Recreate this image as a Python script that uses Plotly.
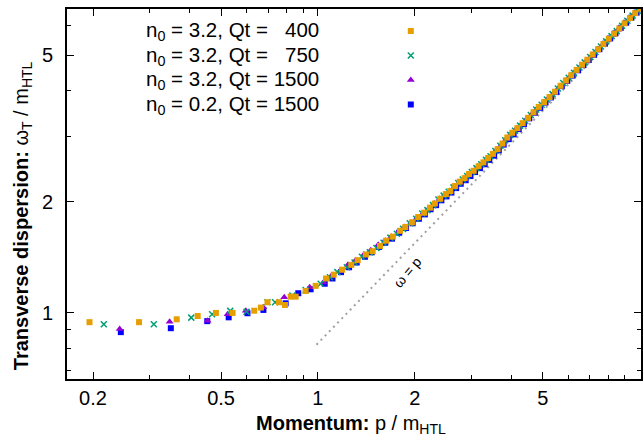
import math
import plotly.graph_objects as go

# ---- data ----
p_a = [0.195, 0.278, 0.364, 0.423, 0.482, 0.543, 0.634, 0.665, 0.697, 0.757, 0.790, 0.823, 0.853, 0.916, 0.984,
       1.06, 1.12, 1.19, 1.27, 1.33, 1.41, 1.48, 1.56, 1.63, 1.71, 1.80, 1.87, 1.96, 2.05, 2.14, 2.23, 2.31, 2.40,
       2.50, 2.58, 2.67, 2.76, 2.86, 2.95, 3.05, 3.16, 3.27, 3.38, 3.50, 3.62, 3.75, 3.88, 4.02, 4.17, 4.33, 4.50,
       4.68, 4.86, 5.05, 5.25, 5.46, 5.68, 5.90, 6.13, 6.37, 6.62, 6.88, 7.15, 7.43, 7.72, 8.02, 8.33, 8.65, 8.98,
       9.33, 9.69, 10.05]
w_a = [0.944, 0.944, 0.961, 0.981, 1.00, 1.00, 1.014, 1.034, 1.069, 1.069, 1.051, 1.107, 1.107, 1.147, 1.184,
       1.24, 1.27, 1.31, 1.35, 1.39, 1.44, 1.47, 1.52, 1.57, 1.61, 1.67, 1.71, 1.76, 1.82, 1.87, 1.93, 1.98, 2.04,
       2.10, 2.14, 2.21, 2.27, 2.32, 2.38, 2.43, 2.50, 2.56, 2.63, 2.70, 2.78, 2.88, 2.99, 3.08, 3.17, 3.27, 3.38,
       3.50, 3.62, 3.73, 3.85, 3.98, 4.13, 4.27, 4.41, 4.56, 4.71, 4.86, 5.02, 5.19, 5.36, 5.54, 5.72, 5.91, 6.10,
       6.30, 6.50, 6.69]

p_b = [0.216, 0.309, 0.404, 0.469, 0.534, 0.600, 0.697, 0.736, 0.833, 0.916,
       1.02, 1.09, 1.15, 1.23, 1.30, 1.37, 1.45, 1.52, 1.60, 1.68, 1.76, 1.84, 1.93, 2.02, 2.11, 2.19, 2.28, 2.37,
       2.46, 2.55, 2.64, 2.73, 2.82, 2.91, 3.01, 3.11, 3.22, 3.33, 3.44, 3.56, 3.69, 3.82, 3.96, 4.10, 4.25, 4.41,
       4.59, 4.77, 4.96, 5.15, 5.36, 5.57, 5.79, 6.02, 6.25, 6.50, 6.75, 7.02, 7.29, 7.58, 7.87, 8.18, 8.49, 8.82,
       9.16, 9.51, 9.87]
w_b = [0.932, 0.932, 0.971, 0.992, 1.013, 1.008, 1.069, 1.069, 1.114, 1.154,
       1.20, 1.25, 1.29, 1.33, 1.37, 1.42, 1.46, 1.50, 1.55, 1.60, 1.64, 1.69, 1.75, 1.80, 1.86, 1.90, 1.96, 2.03,
       2.08, 2.13, 2.19, 2.25, 2.30, 2.35, 2.41, 2.47, 2.53, 2.60, 2.66, 2.75, 2.84, 2.94, 3.04, 3.12, 3.22, 3.32,
       3.44, 3.56, 3.67, 3.79, 3.92, 4.06, 4.20, 4.34, 4.48, 4.63, 4.78, 4.94, 5.10, 5.28, 5.45, 5.63, 5.81, 6.01,
       6.20, 6.40, 6.60]

p_c = [0.242, 0.346, 0.454, 0.524, 0.597, 0.676, 0.786, 0.943,
       1.04, 1.10, 1.17, 1.24, 1.31, 1.39, 1.46, 1.54, 1.62, 1.69, 1.78, 1.86, 1.95, 2.03, 2.12, 2.21, 2.30, 2.39,
       2.48, 2.57, 2.66, 2.75, 2.84, 2.93, 3.03, 3.14, 3.25, 3.36, 3.47, 3.59, 3.72, 3.85, 3.99, 4.14, 4.29, 4.46,
       4.63, 4.81, 5.00, 5.20, 5.41, 5.62, 5.85, 6.08, 6.31, 6.56, 6.82, 7.09, 7.36, 7.65, 7.95, 8.25, 8.57, 8.90,
       9.25, 9.60, 9.96]
w_c = [0.905, 0.947, 0.953, 0.992, 1.013, 1.036, 1.103, 1.174,
       1.21, 1.26, 1.30, 1.35, 1.39, 1.44, 1.48, 1.53, 1.57, 1.61, 1.66, 1.71, 1.76, 1.81, 1.86, 1.92, 1.98, 2.04,
       2.09, 2.14, 2.20, 2.26, 2.31, 2.37, 2.42, 2.49, 2.55, 2.62, 2.68, 2.77, 2.86, 2.96, 3.06, 3.16, 3.25, 3.36,
       3.47, 3.59, 3.70, 3.82, 3.95, 4.09, 4.23, 4.38, 4.52, 4.67, 4.82, 4.98, 5.15, 5.32, 5.50, 5.67, 5.86, 6.06,
       6.26, 6.45, 6.65]

p_d = [0.244, 0.349, 0.453, 0.528, 0.604, 0.677, 0.794, 0.869, 0.949,
       1.05, 1.11, 1.18, 1.25, 1.32, 1.40, 1.47, 1.55, 1.62, 1.70, 1.79, 1.88, 1.97, 2.06, 2.15, 2.24, 2.33, 2.42,
       2.51, 2.60, 2.69, 2.78, 2.88, 2.98, 3.08, 3.19, 3.30, 3.41, 3.53, 3.65, 3.78, 3.92, 4.06, 4.21, 4.37, 4.54,
       4.72, 4.91, 5.10, 5.30, 5.51, 5.73, 5.96, 6.19, 6.44, 6.69, 6.95, 7.22, 7.50, 7.80, 8.10, 8.41, 8.74, 9.08,
       9.43, 9.79]
w_d = [0.887, 0.909, 0.950, 0.973, 0.998, 1.019, 1.062, 1.131, 1.159,
       1.20, 1.24, 1.29, 1.33, 1.37, 1.42, 1.46, 1.51, 1.55, 1.59, 1.65, 1.70, 1.75, 1.80, 1.85, 1.91, 1.96, 2.02,
       2.07, 2.12, 2.18, 2.24, 2.29, 2.35, 2.41, 2.47, 2.53, 2.60, 2.67, 2.76, 2.86, 2.96, 3.05, 3.15, 3.25, 3.37,
       3.49, 3.60, 3.72, 3.84, 3.97, 4.12, 4.26, 4.40, 4.55, 4.70, 4.85, 5.01, 5.19, 5.37, 5.55, 5.73, 5.93, 6.12,
       6.32, 6.52]

labels = ["n<sub>0</sub> = 3.2, Qt = \u2007400",
          "n<sub>0</sub> = 3.2, Qt = \u2007750",
          "n<sub>0</sub> = 3.2, Qt = 1500",
          "n<sub>0</sub> = 0.2, Qt = 1500"]

# reference line omega = p (as drawn)
p_line = [0.99, 10.0]
w_line = [0.82, 6.6]

x_ticks = [0.2, 0.5, 1, 2, 5]
x_minor = [0.3, 0.4, 0.6, 0.7, 0.8, 0.9, 3, 4, 6, 7, 8, 9]
y_ticks = [1, 2, 5]
y_minor = [0.7, 0.8, 0.9, 3, 4, 6]
x_range = [0.166, 10.1]
y_range = [0.662, 6.67]

# ---- styles ----
colors = ["#E69F00", "#009E73", "#9400D3", "#0000FF"]
symbols = ["square", "x-thin", "triangle-up", "square"]
sizes = [6, 6, 7, 6]
FONT = "Liberation Sans, Arial, Helvetica, sans-serif"

series = [(p_a, w_a), (p_b, w_b), (p_c, w_c), (p_d, w_d)]

fig = go.Figure()
fig.add_trace(go.Scatter(x=p_line, y=w_line, mode="lines",
                         line=dict(color="#A0A0A0", width=2, dash="2px,4px"),
                         showlegend=False, hoverinfo="skip"))

def marker(i):
    m = dict(color=colors[i], symbol=symbols[i], size=sizes[i])
    if symbols[i] == "x-thin":
        m["line"] = dict(color=colors[i], width=1.5)
    else:
        m["line"] = dict(width=0)
    return m

for i in reversed(range(4)):
    px, wy = series[i]
    fig.add_trace(go.Scatter(x=px, y=wy, mode="markers", marker=marker(i),
                             name=labels[i], showlegend=False))

# custom gnuplot-style legend (text right-aligned, key on the right)
W, H = 644, 443
L, R, T, B = 67, 1, 9, 64
pw, ph = W - L - R, H - T - B
def px2paper_x(v):
    return (v - L) / pw
def py2paper_y(v):
    return (H - B - v) / ph

leg_text_x = px2paper_x(322)
leg_key_x = px2paper_x(412)
leg_rows = [py2paper_y(31 + 24.5 * i) for i in range(4)]

for i in range(4):
    fig.add_annotation(x=leg_text_x, y=leg_rows[i], xref="paper", yref="paper",
                       text=labels[i], showarrow=False, xanchor="right", yanchor="middle",
                       font=dict(family=FONT, size=20.5, color="black"))
    fig.add_trace(go.Scatter(x=[leg_key_x], y=[leg_rows[i]], xaxis="x2", yaxis="y2",
                             mode="markers", marker=marker(i), showlegend=False, hoverinfo="skip"))

# omega = p label
fig.add_annotation(x=math.log10(1.9), y=math.log10(1.29), xref="x", yref="y",
                   text="ω = p", showarrow=False, textangle=-50,
                   font=dict(family=FONT, size=14, color="black"))

# axis titles
fig.add_annotation(x=px2paper_x(352), y=py2paper_y(424), xref="paper", yref="paper",
                   text="<b>Momentum:</b> p / m<sub>HTL</sub>", showarrow=False,
                   xanchor="center", yanchor="middle",
                   font=dict(family=FONT, size=20, color="black"))
fig.add_annotation(x=px2paper_x(22), y=py2paper_y(216), xref="paper", yref="paper",
                   text="<b>Transverse dispersion:</b> ω<sub>T</sub> / m<sub>HTL</sub>", showarrow=False,
                   textangle=-90, xanchor="center", yanchor="middle",
                   font=dict(family=FONT, size=20, color="black"))

axis_common = dict(showgrid=False, zeroline=False, showline=True, linecolor="black", linewidth=2,
                   mirror="ticks", ticks="inside", ticklen=7, tickwidth=1, tickcolor="black",
                   tickfont=dict(family=FONT, size=20, color="black"))

fig.update_layout(
    width=W, height=H,
    margin=dict(l=L, r=R, t=T, b=B),
    paper_bgcolor="white", plot_bgcolor="white",
    showlegend=False,
    xaxis=dict(type="log", range=[math.log10(x_range[0]), math.log10(x_range[1])],
               tickmode="array", tickvals=x_ticks, ticktext=[str(v) for v in x_ticks],
               minor=dict(tickmode="array", tickvals=x_minor, ticks="inside", ticklen=4,
                          tickcolor="black", tickwidth=1),
               **axis_common),
    yaxis=dict(type="log", range=[math.log10(y_range[0]), math.log10(y_range[1])],
               tickmode="array", tickvals=y_ticks, ticktext=[str(v) for v in y_ticks],
               ticklabelstandoff=8,
               minor=dict(tickmode="array", tickvals=y_minor, ticks="inside", ticklen=4,
                          tickcolor="black", tickwidth=1),
               **axis_common),
    xaxis2=dict(overlaying="x", range=[0, 1], visible=False, anchor="y2"),
    yaxis2=dict(overlaying="y", range=[0, 1], visible=False, anchor="x2"),
)

fig.write_html("out.html")
